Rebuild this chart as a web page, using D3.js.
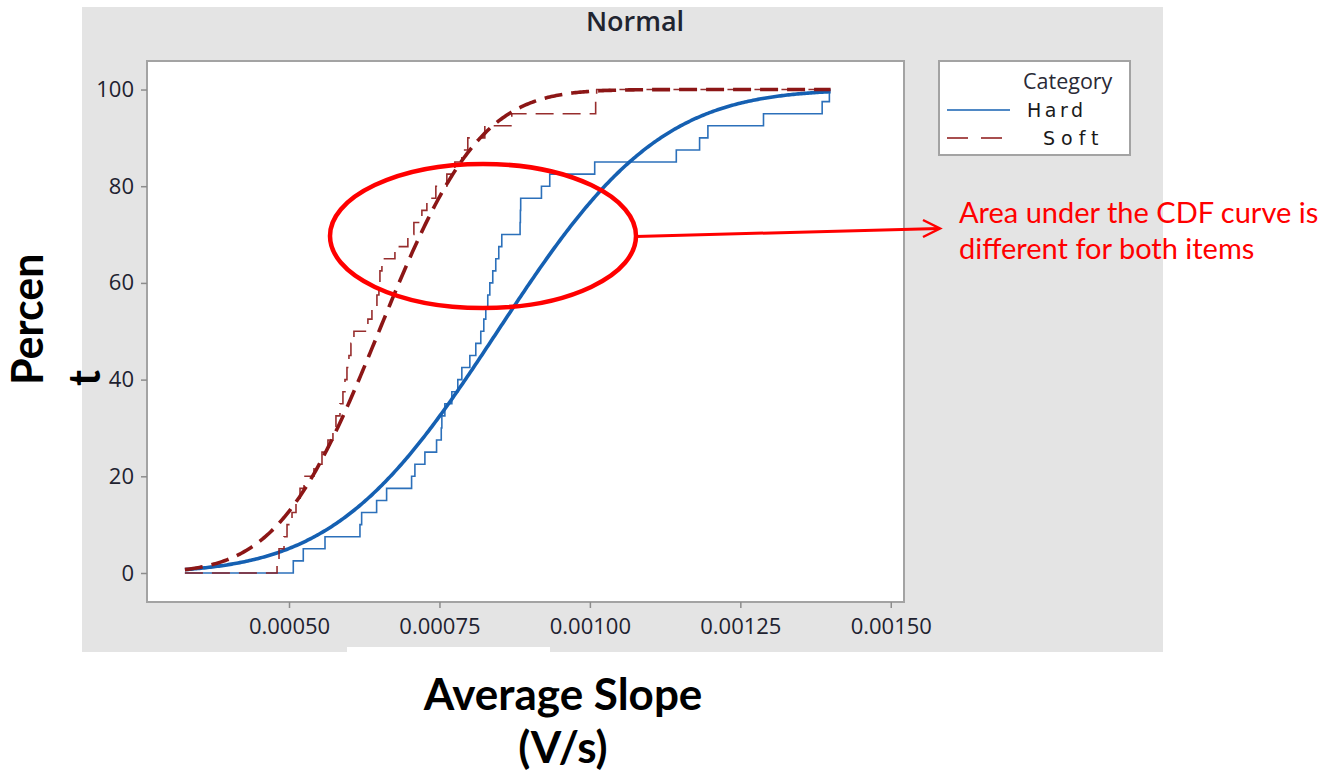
<!DOCTYPE html>
<html>
<head>
<meta charset="utf-8">
<script src="https://cdn.jsdelivr.net/npm/d3@7"></script>
<style>
  body { margin: 0; background: #ffffff; }
  svg { display: block; }
</style>
</head>
<body>
<svg id="chart" width="1326" height="775"></svg>
<script>
// Average slope (V/s) per sample, by category
const categories = ["Hard", "Soft"];
const hardValues = [
  0.0005071, 0.0005237, 0.0005598, 0.0006179, 0.0006207, 0.0006456, 0.0006622, 0.0007037,
  0.0007092, 0.0007258, 0.0007452, 0.0007530, 0.0007540, 0.0007590, 0.0007706, 0.0007805,
  0.0007872, 0.0008005, 0.0008104, 0.0008187, 0.0008237, 0.0008270, 0.0008303, 0.0008337,
  0.0008386, 0.0008436, 0.0008486, 0.0008536, 0.0008840, 0.0008845, 0.0008850, 0.0009195,
  0.0009333, 0.0010080, 0.0011436, 0.0011823, 0.0011961, 0.0012885, 0.0013860, 0.0013980
];
const softValues = [
  0.0004801, 0.0004834, 0.0004917, 0.0004967, 0.0005050, 0.0005116, 0.0005183, 0.0005249,
  0.0005415, 0.0005548, 0.0005647, 0.0005730, 0.0005780, 0.0005847, 0.0005896, 0.0005930,
  0.0005963, 0.0005996, 0.0006029, 0.0006079, 0.0006311, 0.0006378, 0.0006461, 0.0006494,
  0.0006511, 0.0006544, 0.0006760, 0.0006975, 0.0007075, 0.0007208, 0.0007291, 0.0007440,
  0.0007623, 0.0007756, 0.0007872, 0.0007971, 0.0008254, 0.0008702, 0.0010096, 0.0010113
];
// x extent over which the CDF lines are drawn
const curveSpan = [0.000327, 0.0014];
// axis ticks
const xTicks = [0.0005, 0.00075, 0.001, 0.00125, 0.0015];
const xTickLabels = ["0.00050", "0.00075", "0.00100", "0.00125", "0.00150"];
const yTicks = [0, 20, 40, 60, 80, 100];
const xDomain = [0.000264, 0.001522];
const yDomain = [-6, 105.9];

const colors = { Hard: "#1560b2", Soft: "#8c1616" };

const svg = d3.select("#chart");

// panel background
svg.append("rect").attr("x", 82).attr("y", 7).attr("width", 1081).attr("height", 645)
  .attr("fill", "#e4e4e4");
svg.append("rect").attr("x", 347).attr("y", 647).attr("width", 203).attr("height", 8)
  .attr("fill", "#ffffff");

const plot = { left: 147, right: 904, top: 61, bottom: 602 };
const x = d3.scaleLinear().domain(xDomain).range([plot.left, plot.right]);
const y = d3.scaleLinear().domain(yDomain).range([plot.bottom, plot.top]);

svg.append("rect")
  .attr("x", plot.left).attr("y", plot.top)
  .attr("width", plot.right - plot.left).attr("height", plot.bottom - plot.top)
  .attr("fill", "#ffffff").attr("stroke", "#a3a3a3").attr("stroke-width", 2);

// axes
const tickFont = "'Open Sans', sans-serif";
const xAxis = d3.axisBottom(x).tickValues(xTicks).tickSize(6).tickPadding(10)
  .tickFormat((d, i) => xTickLabels[i]);
const gx = svg.append("g").attr("transform", `translate(0,${plot.bottom})`).call(xAxis);
gx.select(".domain").remove();
gx.selectAll(".tick line").attr("stroke", "#8c8c8c").attr("stroke-width", 1.5);
gx.selectAll(".tick text").attr("font-family", tickFont).attr("font-size", 22)
  .attr("font-weight", 500).attr("fill", "#1e2230");

const yAxis = d3.axisLeft(y).tickValues(yTicks).tickSize(6).tickPadding(7);
const gy = svg.append("g").attr("transform", `translate(${plot.left},0)`).call(yAxis);
gy.select(".domain").remove();
gy.selectAll(".tick line").attr("stroke", "#8c8c8c").attr("stroke-width", 1.5);
gy.selectAll(".tick text").attr("font-family", tickFont).attr("font-size", 22)
  .attr("font-weight", 500).attr("fill", "#1e2230");

// standard normal CDF (Abramowitz & Stegun 7.1.26 erf approximation)
function normCdf(z) {
  const t = 1 / (1 + 0.3275911 * Math.abs(z) / Math.SQRT2);
  const poly = t * (0.254829592 + t * (-0.284496736 + t * (1.421413741 + t * (-1.453152027 + t * 1.061405429))));
  const erf = 1 - poly * Math.exp(-(z * z) / 2);
  return z >= 0 ? 0.5 * (1 + erf) : 0.5 * (1 - erf);
}

function ecdfPoints(values) {
  const sorted = values.slice().sort(d3.ascending);
  const n = sorted.length;
  const pts = [[curveSpan[0], 0]];
  sorted.forEach((v, i) => pts.push([v, (i + 1) / n * 100]));
  pts.push([curveSpan[1], 100]);
  return pts;
}

function fitPoints(values) {
  const mu = d3.mean(values), sd = d3.deviation(values);
  const grid = d3.range(0, 401).map(i => curveSpan[0] + i * (curveSpan[1] - curveSpan[0]) / 400);
  return grid.map(v => [v, normCdf((v - mu) / sd) * 100]);
}

const stepLine = d3.line().x(d => x(d[0])).y(d => y(d[1])).curve(d3.curveStepAfter);
const smoothLine = d3.line().x(d => x(d[0])).y(d => y(d[1]));

const series = [
  { name: "Hard", values: hardValues, dash: null },
  { name: "Soft", values: softValues, dash: "18,9" }
];

series.forEach(s => {
  svg.append("path").datum(ecdfPoints(s.values)).attr("d", stepLine)
    .attr("fill", "none").attr("stroke", colors[s.name]).attr("stroke-width", 1.6)
    .attr("stroke-dasharray", s.dash).attr("opacity", 0.9);
  svg.append("path").datum(fitPoints(s.values)).attr("d", smoothLine)
    .attr("fill", "none").attr("stroke", colors[s.name]).attr("stroke-width", 3.6)
    .attr("stroke-dasharray", s.dash);
});

// title
svg.append("text").attr("x", 635).attr("y", 31).attr("text-anchor", "middle")
  .attr("font-family", "'Open Sans', sans-serif").attr("font-weight", 600).attr("font-size", 27)
  .attr("fill", "#1f2430").text("Normal");

// legend
const lg = svg.append("g");
lg.append("rect").attr("x", 939).attr("y", 61).attr("width", 191).attr("height", 94)
  .attr("fill", "#ffffff").attr("stroke", "#a3a3a3").attr("stroke-width", 2);
lg.append("text").attr("x", 1023).attr("y", 89)
  .attr("font-family", "'Open Sans', sans-serif").attr("font-size", 21.5).attr("fill", "#2a2a36")
  .text("Category");
const legendRows = [
  { name: categories[0], y: 110, dash: null, tx: 1027, spacing: 3.5 },
  { name: categories[1], y: 138, dash: "21,13", tx: 1043, spacing: 6 }
];
legendRows.forEach(r => {
  lg.append("line").attr("x1", 947).attr("x2", r.dash ? 1003 : 1010).attr("y1", r.y).attr("y2", r.y)
    .attr("stroke", colors[r.name]).attr("stroke-width", 1.6).attr("stroke-dasharray", r.dash);
  lg.append("text").attr("x", r.tx).attr("y", r.y + 7)
    .attr("font-family", "'DejaVu Sans', sans-serif").attr("font-size", 19)
    .attr("letter-spacing", r.spacing).attr("fill", "#1a1a1a").text(r.name);
});

// axis titles
const yTitle = svg.append("g").attr("font-family", "Lato, sans-serif").attr("font-weight", 700)
  .attr("font-size", 43).attr("fill", "#000");
yTitle.append("text").attr("transform", "translate(43,385) rotate(-90)").text("Percen");
yTitle.append("text").attr("transform", "translate(100,386) rotate(-90)").text("t");

const xTitle = svg.append("g").attr("font-family", "Lato, sans-serif").attr("font-weight", 700)
  .attr("font-size", 44).attr("fill", "#000").attr("text-anchor", "middle");
xTitle.append("text").attr("x", 563).attr("y", 710).text("Average Slope");
xTitle.append("text").attr("x", 563).attr("y", 763).text("(V/s)");

// annotation
const red = "#ff0000";
svg.append("ellipse").attr("cx", 483).attr("cy", 236).attr("rx", 153).attr("ry", 72)
  .attr("fill", "none").attr("stroke", red).attr("stroke-width", 4.5);
svg.append("line").attr("x1", 636).attr("y1", 236.5).attr("x2", 939).attr("y2", 228.5)
  .attr("stroke", red).attr("stroke-width", 3);
svg.append("path").attr("d", "M923,220 L940,228.5 L923,237")
  .attr("fill", "none").attr("stroke", red).attr("stroke-width", 2.5);
const note = svg.append("g").attr("font-family", "Lato, sans-serif").attr("font-size", 29).attr("fill", red);
note.append("text").attr("x", 959).attr("y", 223).text("Area under the CDF curve is");
note.append("text").attr("x", 959).attr("y", 259).text("different for both items");
</script>
</body>
</html>
